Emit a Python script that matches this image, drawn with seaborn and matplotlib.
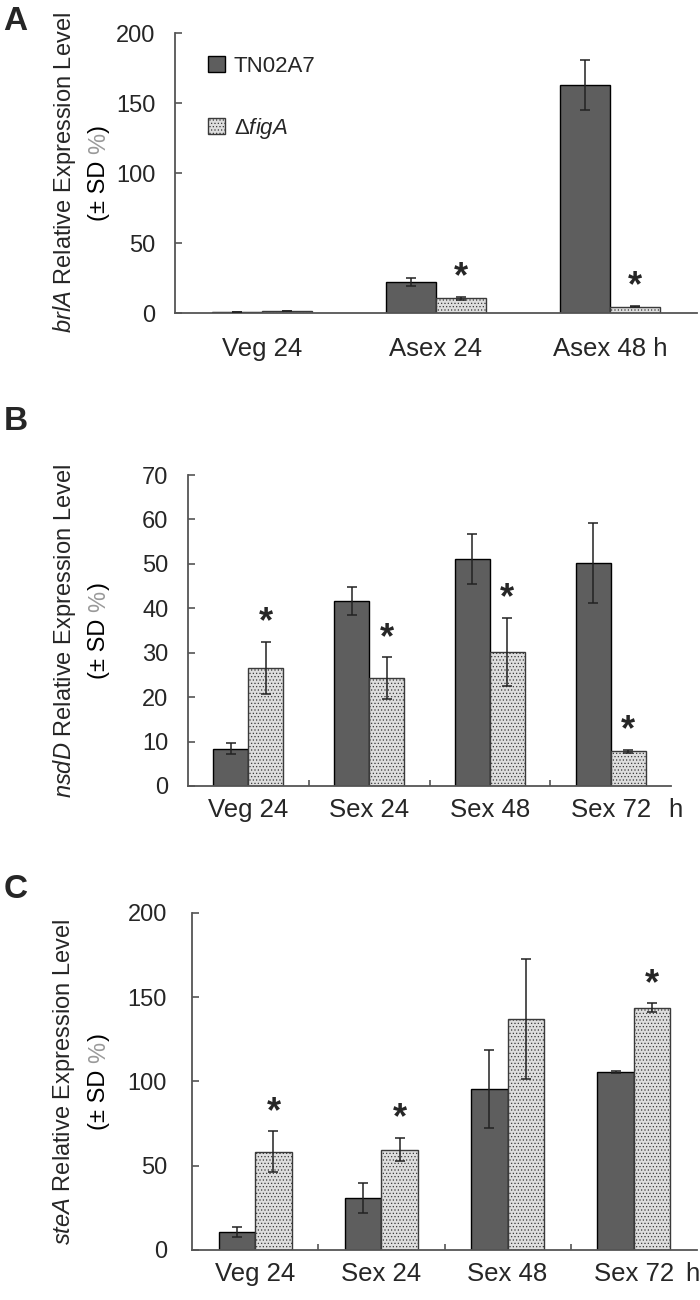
import pandas as pd
import matplotlib
matplotlib.use('Agg')
import matplotlib.pyplot as plt
from matplotlib.patches import Patch
import seaborn as sns

# =========================
# DATA
# =========================
strains = ['TN02A7', 'Δ$\\it{figA}$']

# panel A - brlA
a_stages = ['Veg 24', 'Asex 24', 'Asex 48 h']
a_wt = [0.7, 22.0, 163.0]
a_wt_sd = [0.2, 2.9, 18.0]
a_fig = [1.5, 10.5, 4.5]
a_fig_sd = [0.2, 1.2, 0.5]
a_star = [False, True, True]

# panel B - nsdD
b_stages = ['Veg 24', 'Sex 24', 'Sex 48', 'Sex 72']
b_wt = [8.4, 41.6, 51.1, 50.1]
b_wt_sd = [1.2, 3.1, 5.7, 9.0]
b_fig = [26.6, 24.3, 30.2, 7.8]
b_fig_sd = [5.8, 4.7, 7.7, 0.4]
b_star = [True, True, True, True]

# panel C - steA
c_stages = ['Veg 24', 'Sex 24', 'Sex 48', 'Sex 72']
c_wt = [10.8, 30.8, 95.5, 105.8]
c_wt_sd = [2.9, 8.8, 23.0, 0.5]
c_fig = [58.2, 59.5, 137.0, 143.8]
c_fig_sd = [12.2, 7.0, 35.5, 2.5]
c_star = [True, True, False, True]

# =========================
# STYLE
# =========================
sns.set_style('ticks')
plt.rcParams['font.family'] = ['Liberation Sans', 'DejaVu Sans']
plt.rcParams['mathtext.fontset'] = 'custom'
plt.rcParams['mathtext.rm'] = 'Liberation Sans'
plt.rcParams['mathtext.it'] = 'Liberation Sans:italic'
plt.rcParams['hatch.linewidth'] = 0.5

DARK = '#5e5e5e'
LIGHT = '#dedede'
AXC = '#555555'
YT_FS = 17      # y tick labels
XT_FS = 18.5    # x tick labels
YL_FS = 17      # y axis title

fig = plt.figure(figsize=(7, 13), dpi=100)


def make_df(stages, wt, fig_vals):
    return pd.DataFrame({
        'stage': stages * 2,
        'strain': [strains[0]] * len(stages) + [strains[1]] * len(stages),
        'value': wt + fig_vals,
    })


def panel(rect, stages, wt, wt_sd, fig_vals, fig_sd, stars, ymax, ystep, gene,
          letter, letter_y, tickpad, xpad, hlabel_x=None, bounds=True):
    ax = fig.add_axes(rect)
    df = make_df(stages, wt, fig_vals)
    sns.barplot(data=df, x='stage', y='value', hue='strain',
                palette={strains[0]: DARK, strains[1]: LIGHT},
                width=0.58, errorbar=None, edgecolor='black', linewidth=1.0,
                legend=False, ax=ax)
    for bar in ax.containers[1]:
        bar.set_hatch('.....')
        bar.set_edgecolor('#3a3a3a')

    # error bars + asterisks
    for cont, sds in zip(ax.containers, [wt_sd, fig_sd]):
        for bar, sd in zip(cont, sds):
            x = bar.get_x() + bar.get_width() / 2
            ax.errorbar(x, bar.get_height(), yerr=sd, fmt='none',
                        ecolor='#222222', elinewidth=1.1, capsize=3.5,
                        capthick=1.1, zorder=5)
    for bar, sd, st in zip(ax.containers[1], fig_sd, stars):
        if st:
            x = bar.get_x() + bar.get_width() / 2
            ax.annotate('*', (x, bar.get_height() + sd), xytext=(0, 1),
                        textcoords='offset points', ha='center', va='bottom',
                        fontsize=26, fontweight='bold')

    ax.set_xlim(-0.5, len(stages) - 0.5)
    ax.set_ylim(0, ymax)
    ax.set_yticks(range(0, ymax + 1, ystep))
    ax.set_xlabel('')
    ax.set_ylabel('')
    sns.despine(ax=ax)
    for s in ['left', 'bottom']:
        ax.spines[s].set_color(AXC)
        ax.spines[s].set_linewidth(1.3)
    ax.tick_params(axis='y', direction='in', length=5, width=1.2,
                   color=AXC, pad=tickpad, labelsize=YT_FS)
    ax.tick_params(axis='x', length=0, pad=xpad, labelsize=XT_FS)
    if bounds:
        ax.set_xticks([i + 0.5 for i in range(len(stages) - 1)], minor=True)
        ax.tick_params(axis='x', which='minor', direction='in', length=4,
                       width=1.2, color=AXC)
    if hlabel_x is not None:
        ax.annotate('h', (hlabel_x, 0), xycoords='axes fraction',
                    xytext=(0, -xpad), textcoords='offset points',
                    ha='center', va='top', fontsize=XT_FS)

    # y labels (two lines, gray %)
    pos = ax.get_position()
    yc = pos.y0 + pos.height / 2
    fig.text(0.092, yc, '$\\it{' + gene + '}$ Relative Expression Level',
             rotation=90, ha='center', va='center', fontsize=YL_FS)
    r = fig.canvas.get_renderer()
    parts = [('(± SD ', 'black'), ('%', '#9a9a9a'), (')', 'black')]
    hts = []
    for txt, _ in parts:
        t = fig.text(0, 0, txt, rotation=90, fontsize=YL_FS)
        hts.append(t.get_window_extent(r).height / fig.bbox.height)
        t.remove()
    y0 = yc - sum(hts) / 2
    for (txt, col), h in zip(parts, hts):
        fig.text(0.141, y0, txt, rotation=90, ha='center', va='bottom',
                 fontsize=YL_FS, color=col)
        y0 += h

    fig.text(0.022, letter_y, letter, ha='center', va='center',
             fontsize=24, fontweight='bold')
    return ax


# =========================
# PANELS
# =========================
axA = panel([0.25, 0.7592, 0.7457, 0.2154], a_stages, a_wt, a_wt_sd,
            a_fig, a_fig_sd, a_star, 200, 50, 'brlA', 'A', 1 - 21 / 1300,
            tickpad=14, xpad=17, bounds=False)
handles = [Patch(facecolor=DARK, edgecolor='black', linewidth=1.0),
           Patch(facecolor=LIGHT, edgecolor='#3a3a3a', hatch='.....',
                 linewidth=1.0)]
axA.legend(handles, strains, loc='upper left', bbox_to_anchor=(0.025, 0.99),
           frameon=False, fontsize=16, handlelength=0.75, handleheight=0.75,
           handletextpad=0.4, labelspacing=1.75)

panel([0.2686, 0.3954, 0.69, 0.2392], b_stages, b_wt, b_wt_sd,
      b_fig, b_fig_sd, b_star, 70, 10, 'nsdD', 'B', 1 - 422 / 1300,
      tickpad=14, xpad=9, hlabel_x=1.008)

panel([0.2743, 0.0385, 0.7214, 0.2592], c_stages, c_wt, c_wt_sd,
      c_fig, c_fig_sd, c_star, 200, 50, 'steA', 'C', 1 - 890 / 1300,
      tickpad=18, xpad=9, hlabel_x=0.99)

fig.savefig('out.png', dpi=100)
